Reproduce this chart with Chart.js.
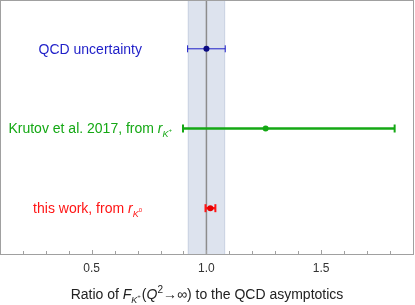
<!DOCTYPE html>
<html><head><meta charset="utf-8">
<script src="https://cdn.jsdelivr.net/npm/chart.js@4"></script>
<style>html,body{margin:0;padding:0;background:#fff}canvas{display:block}</style>
</head><body>
<canvas id="c" width="415" height="305"></canvas>
<script>
// ---- data ----
const rowNames   = ['this work', 'Krutov et al. 2017', 'QCD uncertainty'];
const rowY       = [1, 2, 3];
const centers    = [1.017, 1.258, 1.0];
const lows       = [0.996, 0.898, 0.918];
const highs      = [1.039, 1.820, 1.082];
const bandRange  = [0.918, 1.082];
const refValue   = 1.0;
const xMin = 0.105, xMax = 1.9, xStep = 0.1, xMajorStep = 0.5;
const yMin = 0.425, yMax = 3.6;

// ---- styles ----
const colors    = ['rgb(255,20,20)', 'rgb(20,168,20)', 'rgb(30,30,200)'];
const dotColors = ['rgb(230,0,0)', 'rgb(20,168,20)', 'rgb(10,10,130)'];
const lineW     = [2.5, 2.5, 1];
const capHalf   = [4, 4, 3.5];
const capW      = [2, 2, 1];
const labelRightX = [142, 172, 142];
const FONT = '"Liberation Sans", Arial, sans-serif';

const datasets = [];
datasets.push({
  type: 'line', data: [{x: refValue, y: yMin}, {x: refValue, y: yMax}],
  borderColor: 'rgb(140,140,140)', borderWidth: 1.5, pointRadius: 0, order: 10
});
rowY.forEach((y, i) => {
  datasets.push({
    type: 'line', data: [{x: lows[i], y}, {x: highs[i], y}],
    borderColor: colors[i], borderWidth: lineW[i],
    pointStyle: 'line', pointRotation: 90, pointRadius: capHalf[i],
    pointBorderWidth: capW[i], pointBorderColor: colors[i], pointHoverRadius: capHalf[i], order: 5
  });
  datasets.push({
    type: 'scatter', data: [{x: centers[i], y}],
    pointRadius: 3, pointBackgroundColor: dotColors[i], pointBorderColor: dotColors[i],
    pointBorderWidth: 0, order: 1
  });
});

function drawRich(ctx, segs, x, y, align) {
  let total = 0;
  segs.forEach(s => {
    ctx.font = (s.italic ? 'italic ' : '') + s.size + 'px ' + FONT;
    s.w = ctx.measureText(s.t).width;
    total += s.w + (s.gap || 0);
  });
  let cx = align === 'right' ? x - total : (align === 'center' ? x - total / 2 : x);
  ctx.textBaseline = 'alphabetic';
  ctx.textAlign = 'left';
  segs.forEach(s => {
    ctx.font = (s.italic ? 'italic ' : '') + s.size + 'px ' + FONT;
    ctx.fillText(s.t, cx, y + (s.dy || 0));
    cx += s.w + (s.gap || 0);
  });
}

const labelSegs = [
  [{t: 'this work, from ', size: 14}, {t: 'r', italic: true, size: 14},
   {t: 'K', italic: true, size: 9, dy: 4}, {t: '0', size: 6, dy: -1}],
  [{t: 'Krutov et al. 2017, from ', size: 14}, {t: 'r', italic: true, size: 14},
   {t: 'K', italic: true, size: 9, dy: 4}, {t: '+', size: 6, dy: -1}],
  [{t: 'QCD uncertainty', size: 14}]
];
const titleSegs = [
  {t: 'Ratio of ', size: 14}, {t: 'F', italic: true, size: 14},
  {t: 'K', italic: true, size: 9, dy: 4}, {t: '+', size: 6, dy: -1, gap: 1},
  {t: '(', size: 14}, {t: 'Q', italic: true, size: 14}, {t: '2', size: 10, dy: -6},
  {t: '\u2192\u221E) to the QCD asymptotics', size: 14}
];

const decor = {
  id: 'decor',
  beforeDatasetsDraw(chart) {
    const {ctx, chartArea: a, scales: {x}} = chart;
    const l = x.getPixelForValue(bandRange[0]), r = x.getPixelForValue(bandRange[1]);
    ctx.save();
    ctx.fillStyle = 'rgb(221,227,238)';
    ctx.fillRect(l, a.top, r - l, a.bottom - a.top);
    ctx.strokeStyle = 'rgb(205,213,228)';
    ctx.lineWidth = 1;
    ctx.beginPath();
    ctx.moveTo(Math.round(l) + 0.5, a.top); ctx.lineTo(Math.round(l) + 0.5, a.bottom);
    ctx.moveTo(Math.round(r) - 0.5, a.top); ctx.lineTo(Math.round(r) - 0.5, a.bottom);
    ctx.stroke();
    ctx.restore();
  },
  afterDraw(chart) {
    const {ctx, chartArea: a, scales: {x, y}} = chart;
    ctx.save();
    // frame
    ctx.strokeStyle = 'rgb(160,160,160)';
    ctx.lineWidth = 1;
    ctx.strokeRect(a.left - 0.5, a.top - 0.5, a.right - a.left + 1, a.bottom - a.top + 1);
    // inward ticks
    ctx.beginPath();
    x.ticks.forEach(t => {
      if (t.value < xMin - 1e-9 || t.value > xMax + 1e-9) return;
      const px = Math.round(x.getPixelForValue(t.value)) + 0.5;
      const major = Math.abs(t.value / xMajorStep - Math.round(t.value / xMajorStep)) < 1e-6;
      ctx.moveTo(px, a.bottom); ctx.lineTo(px, a.bottom - (major ? 4 : 3));
    });
    ctx.stroke();
    // row labels
    rowY.forEach((v, i) => {
      ctx.fillStyle = colors[i];
      drawRich(ctx, labelSegs[i], labelRightX[i], y.getPixelForValue(v) + 5, 'right');
    });
    // axis title
    ctx.fillStyle = '#222';
    drawRich(ctx, titleSegs, (a.left + a.right) / 2, a.bottom + 45, 'center');
    ctx.restore();
  }
};

new Chart(document.getElementById('c'), {
  data: {datasets},
  options: {
    responsive: false, animation: false, devicePixelRatio: 1,
    layout: {autoPadding: false, padding: {left: 1, right: 2, top: 1, bottom: 29.6}},
    plugins: {legend: {display: false}, tooltip: {enabled: false}},
    scales: {
      x: {
        type: 'linear', min: xMin, max: xMax,
        grid: {display: false, drawTicks: true, tickLength: 7},
        border: {display: false},
        ticks: {
          stepSize: xStep, autoSkip: false, maxRotation: 0, includeBounds: false,
          padding: 0, color: '#333', font: {family: FONT, size: 12},
          callback: v => Math.abs(v / xMajorStep - Math.round(v / xMajorStep)) < 1e-6 ? v.toFixed(1) : ''
        }
      },
      y: {type: 'linear', min: yMin, max: yMax, display: false}
    }
  },
  plugins: [decor]
});
</script>
</body></html>
